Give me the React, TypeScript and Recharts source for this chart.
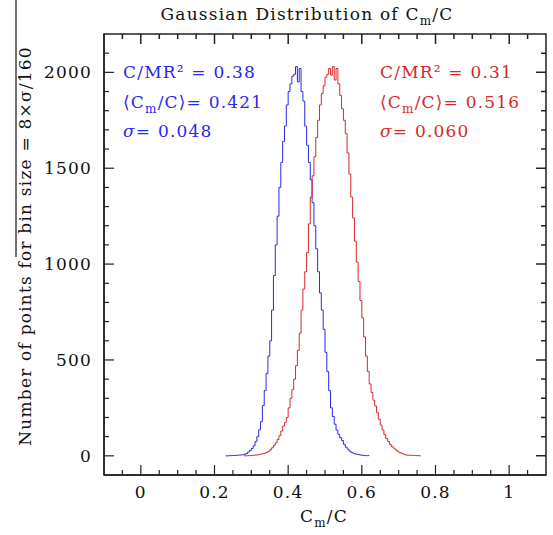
import React from "react";
import { LineChart, Line, XAxis, YAxis, ReferenceArea } from "recharts";

// histogram bins (counts per bin)
const binWidth = 0.005;
const blueStart = 0.23;
const blueCounts = [
  0, 0, 1, 1, 2, 2, 3, 4, 4, 6, 8, 12, 20, 28, 38, 52, 74, 100, 136, 178,
  262, 340, 430, 520, 600, 760, 940, 1100, 1250, 1400, 1530, 1640, 1720, 1830,
  1900, 1940, 1980, 1990, 2030, 1950, 2020, 1900, 1850, 1720, 1620, 1530, 1440,
  1320, 1200, 1080, 960, 850, 760, 660, 540, 440, 340, 250, 205, 165, 134, 112,
  95, 80, 60, 45, 35, 25, 18, 14, 10, 8, 6, 4, 3, 2, 1, 1, 0,
];
const redStart = 0.28;
const redCounts = [
  0, 0, 1, 1, 2, 3, 4, 5, 7, 9, 11, 14, 18, 24, 32, 42, 55, 68, 85, 105, 130,
  155, 175, 200, 250, 300, 345, 400, 470, 550, 640, 760, 870, 960, 1060, 1210,
  1350, 1460, 1560, 1660, 1750, 1830, 1890, 1930, 1975, 1990, 2020, 1985, 2030,
  1960, 2020, 1940, 1880, 1810, 1750, 1680, 1580, 1470, 1350, 1240, 1120, 1010,
  910, 810, 720, 620, 520, 440, 375, 330, 290, 260, 225, 190, 160, 135, 110, 90,
  75, 60, 48, 40, 32, 25, 18, 14, 10, 6, 4, 3, 3, 2, 2, 1, 1, 0, 0,
];

const xTicks = [
  -0.05, 0, 0.05, 0.1, 0.15, 0.2, 0.25, 0.3, 0.35, 0.4, 0.45, 0.5, 0.55, 0.6,
  0.65, 0.7, 0.75, 0.8, 0.85, 0.9, 0.95, 1, 1.05,
];
const yTicks = [
  0, 100, 200, 300, 400, 500, 600, 700, 800, 900, 1000, 1100, 1200, 1300, 1400,
  1500, 1600, 1700, 1800, 1900, 2000, 2100,
];
const xDomain = [-0.1, 1.1];
const yDomain = [-100, 2200];

const BLUE = "#2828f0";
const RED = "#d42a2a";
const INK = "#222";
const FONT = "'DejaVu Serif', serif";

// layout
const W = 553;
const H = 535;
const MARGIN = { top: 34, right: 7, bottom: 0, left: 0 };
const Y_AXIS_W = 104;
const X_AXIS_H = 60;
const PLOT_L = MARGIN.left + Y_AXIS_W;
const PLOT_T = MARGIN.top;
const PLOT_W = W - MARGIN.left - MARGIN.right - Y_AXIS_W;
const PLOT_H = H - MARGIN.top - MARGIN.bottom - X_AXIS_H;

const toBins = (start: number, counts: number[]) =>
  counts.map((y, i) => ({ x: +(start + i * binWidth).toFixed(3), y }));

const blueData = toBins(blueStart, blueCounts);
const redData = toBins(redStart, redCounts);

const isMajorX = (v: number) => Math.abs(v * 5 - Math.round(v * 5)) < 1e-6;
const isMajorY = (v: number) => v % 500 === 0;

// same linear mapping as the axes, for the mirrored top/right ticks
const px = (v: number) => PLOT_L + ((v - xDomain[0]) / (xDomain[1] - xDomain[0])) * PLOT_W;
const py = (v: number) => PLOT_T + PLOT_H - ((v - yDomain[0]) / (yDomain[1] - yDomain[0])) * PLOT_H;

const mirrorPath = () => {
  const right = PLOT_L + PLOT_W;
  let d = "";
  xTicks.forEach((v) => {
    const x = px(v).toFixed(1);
    d += `M${x},${PLOT_T}V${PLOT_T + (isMajorX(v) ? 10 : 5)}`;
  });
  yTicks.forEach((v) => {
    const y = py(v).toFixed(1);
    d += `M${right},${y}H${right - (isMajorY(v) ? 10 : 5)}`;
  });
  return d;
};

const textStyle = { fontFamily: FONT, fontSize: 17, letterSpacing: 1.2 };

function XTick(props: any) {
  const { x, y, payload } = props;
  const major = isMajorX(payload.value);
  const len = major ? 10 : 5;
  return (
    <g>
      <line x1={x} y1={y} x2={x} y2={y - len} stroke={INK} strokeWidth={1.2} />
      {major && (
        <text x={x} y={y + 23} textAnchor="middle" fill="#111" style={textStyle}>
          {String(payload.value)}
        </text>
      )}
    </g>
  );
}

function YTick(props: any) {
  const { x, y, payload } = props;
  const major = isMajorY(payload.value);
  const len = major ? 10 : 5;
  return (
    <g>
      <line x1={x} y1={y} x2={x + len} y2={y} stroke={INK} strokeWidth={1.2} />
      {major && (
        <text x={x - 12} y={y + 6} textAnchor="end" fill="#111" style={textStyle}>
          {payload.value}
        </text>
      )}
    </g>
  );
}

function Annot({ x, color, lines }: { x: number; color: string; lines: string[] }) {
  return (
    <g fill={color} style={textStyle}>
      <text x={x} y={78}>{lines[0]}</text>
      <text x={x} y={108}>
        ⟨C<tspan fontSize={12} dy={5}>m</tspan>
        <tspan dy={-5}>/C⟩= {lines[1]}</tspan>
      </text>
      <text x={x} y={137}>
        <tspan fontStyle="italic">σ</tspan>= {lines[2]}
      </text>
    </g>
  );
}

export default function App() {
  return (
    <div style={{ position: "absolute", left: 0, top: 0, width: W, height: H, background: "#fff" }}>
      <LineChart width={W} height={H} margin={MARGIN}>
        <XAxis
          type="number"
          dataKey="x"
          domain={xDomain}
          ticks={xTicks}
          interval={0}
          allowDataOverflow
          height={X_AXIS_H}
          tickSize={0}
          tickMargin={0}
          axisLine={{ stroke: INK, strokeWidth: 1.5 }}
          tickLine={false}
          tick={<XTick />}
        />
        <YAxis
          type="number"
          domain={yDomain}
          ticks={yTicks}
          interval={0}
          allowDataOverflow
          width={Y_AXIS_W}
          tickSize={0}
          tickMargin={0}
          axisLine={{ stroke: INK, strokeWidth: 1.5 }}
          tickLine={false}
          tick={<YTick />}
        />
        {/* plot frame */}
        <ReferenceArea
          x1={xDomain[0]}
          x2={xDomain[1]}
          y1={yDomain[0]}
          y2={yDomain[1]}
          fill="none"
          stroke={INK}
          strokeWidth={1.5}
          ifOverflow="visible"
        />
        <Line
          data={blueData}
          dataKey="y"
          type="stepAfter"
          stroke={BLUE}
          strokeWidth={1}
          dot={false}
          isAnimationActive={false}
        />
        <Line
          data={redData}
          dataKey="y"
          type="stepAfter"
          stroke={RED}
          strokeWidth={1}
          dot={false}
          isAnimationActive={false}
        />
      </LineChart>

      <svg
        width={W}
        height={H}
        style={{ position: "absolute", left: 0, top: 0, pointerEvents: "none" }}
      >
        {/* mirrored ticks on the top and right edges of the frame */}
        <path d={mirrorPath()} stroke={INK} strokeWidth={1.5} fill="none" />
        <text x={307} y={20} textAnchor="middle" fill="#111" style={textStyle}>
          Gaussian Distribution of C<tspan fontSize={12} dy={5}>m</tspan>
          <tspan dy={-5}>/C</tspan>
        </text>
        <text x={324} y={522} textAnchor="middle" fill="#111" style={textStyle}>
          C<tspan fontSize={12} dy={5}>m</tspan>
          <tspan dy={-5}>/C</tspan>
        </text>
        <text
          x={31}
          y={246}
          textAnchor="middle"
          fill="#111"
          style={textStyle}
          transform="rotate(-90, 31, 246)"
        >
          Number of points for bin size = 8×σ/160
        </text>
        <line x1={16} y1={0} x2={16} y2={257} stroke="#111" strokeWidth={1.2} />
        <Annot x={123} color={BLUE} lines={["C/MR² = 0.38", "0.421", "0.048"]} />
        <Annot x={380} color={RED} lines={["C/MR² = 0.31", "0.516", "0.060"]} />
      </svg>
    </div>
  );
}
